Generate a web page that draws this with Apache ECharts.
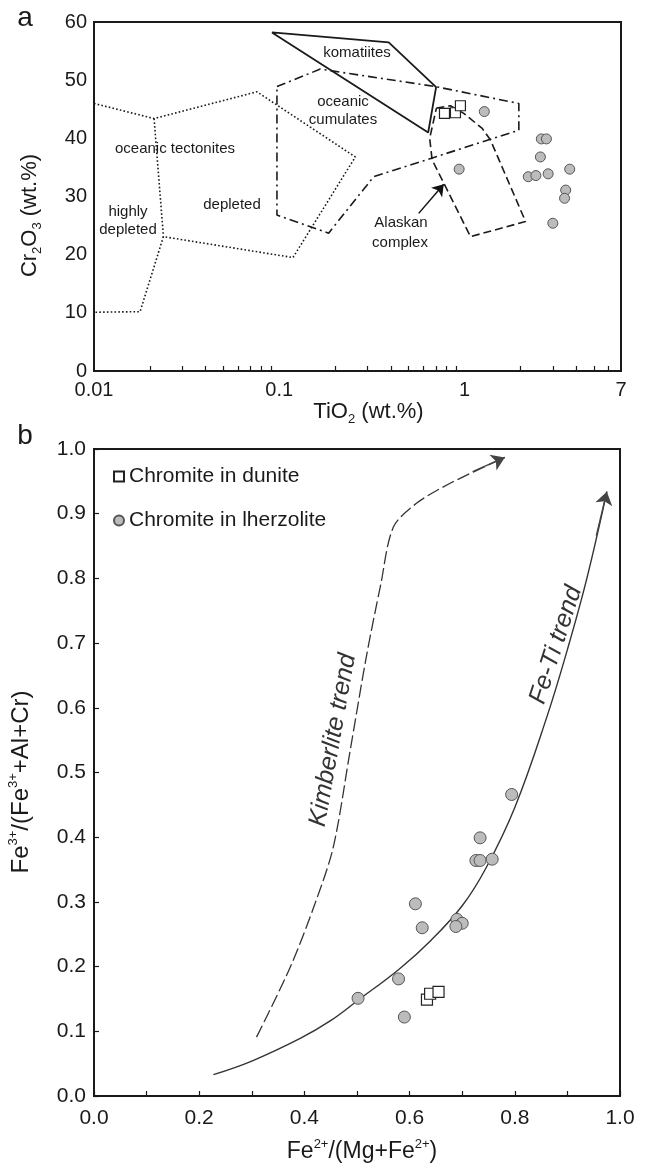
<!DOCTYPE html>
<html>
<head>
<meta charset="utf-8">
<script src="https://cdn.jsdelivr.net/npm/echarts@6/dist/echarts.min.js"></script>
<style>
html,body{margin:0;padding:0;background:#fff}
#chart{width:648px;height:1167px}
</style>
</head>
<body>
<div id="chart"></div>
<script>
// ---- panel a : Cr2O3 vs TiO2 ----
var duniteA = [[0.78,44.3],[0.894,44.4],[0.951,45.6]];
var lherzA = [[1.28,44.6],[2.60,39.9],[2.77,39.9],[2.57,36.8],[0.936,34.7],[2.21,33.4],
              [2.43,33.6],[2.83,33.9],[3.70,34.7],[3.52,31.1],[3.47,29.7],[3.0,25.4]];
var komatiites = [[0.0913,58.2],[0.390,56.5],[0.703,48.8],[0.637,41.0],[0.0913,58.2]];
var cumulates = [[0.0972,48.9],[0.1666,51.9],[0.697,48.9],[1.966,46.0],[1.966,41.4],
                 [0.3234,33.4],[0.1847,23.7],[0.0972,26.8],[0.0972,48.9]];
var tectonites = [[0.01,46.0],[0.0211,43.4],[0.0758,48.0],[0.2575,36.8],[0.1186,19.5],
                  [0.0237,23.1],[0.01773,10.2],[0.01,10.1]];
var tectonitesSplit = [[0.0211,43.4],[0.0237,23.1]];
var alaskan = [[0.7057,45.2],[0.840,45.6],[0.991,44.3],[1.247,41.7],[1.382,39.7],
               [2.137,25.7],[1.078,23.1],[0.669,36.3],[0.649,40.0],[0.7057,45.2]];
var alaskanArrow = [[0.566,27.1],[0.773,32.1]];
var tiLabels = [0.01,0.1,1,7];
var tiMinorTicks = [0.02,0.03,0.04,0.05,0.06,0.07,0.08,0.09,0.2,0.3,0.4,0.5,0.6,0.7,0.8,0.9,2,3,4,5,6];

// ---- panel b : Fe3+/(Fe3++Al+Cr) vs Fe2+/(Mg+Fe2+) ----
var duniteB = [[0.633,0.149],[0.639,0.158],[0.655,0.161]];
var lherzB = [[0.794,0.466],[0.734,0.399],[0.726,0.364],[0.734,0.364],[0.757,0.366],[0.611,0.297],
              [0.624,0.260],[0.690,0.273],[0.700,0.267],[0.688,0.262],[0.579,0.181],[0.502,0.151],[0.590,0.122]];
var kimberliteTrend = [[0.309,0.091],[0.373,0.199],[0.420,0.297],[0.455,0.385],[0.487,0.534],
                       [0.518,0.680],[0.545,0.790],[0.569,0.879],[0.613,0.916],[0.677,0.947],[0.781,0.987]];
var kimberliteArrow = [[0.72,0.965],[0.781,0.987]];
var feTiTrend = [[0.227,0.033],[0.30,0.054],[0.392,0.089],[0.449,0.116],[0.502,0.148],[0.58,0.196],
                 [0.64,0.240],[0.70,0.294],[0.745,0.352],[0.80,0.446],[0.861,0.586],[0.90,0.69],
                 [0.937,0.80],[0.975,0.934]];
var feTiArrow = [[0.955,0.866],[0.975,0.934]];

var FONT = '"Liberation Sans", Arial, sans-serif';
var INK = '#1a1a1a';

var chart = echarts.init(document.getElementById('chart'));

function polygon(data, type, width) {
  return {
    type: 'line', xAxisIndex: 0, yAxisIndex: 0, data: data,
    symbol: 'none', silent: true, z: 2,
    lineStyle: { color: INK, width: width, type: type }
  };
}
function arrow(idx, coords, color, width, size) {
  return {
    type: 'lines', coordinateSystem: 'cartesian2d', xAxisIndex: idx, yAxisIndex: idx,
    symbol: ['none', 'arrow'], symbolSize: size, silent: true, z: 3,
    lineStyle: { color: color, width: width, opacity: 1 },
    data: [{ coords: coords }]
  };
}
function supRich(size) {
  return {
    sup: { fontSize: size, fontFamily: FONT, color: INK, verticalAlign: 'top', lineHeight: 28 },
    sub: { fontSize: size, fontFamily: FONT, color: INK, verticalAlign: 'bottom', lineHeight: 28 }
  };
}
function txt(x, y, s, size, extra) {
  var o = {
    type: 'text', x: x, y: y, silent: true,
    style: {
      text: s, fill: INK, font: size + 'px ' + FONT,
      textAlign: 'center', textVerticalAlign: 'middle', align: 'center', verticalAlign: 'middle'
    }
  };
  if (extra) { for (var k in extra) o[k] = extra[k]; }
  return o;
}

var option = {
  animation: false,
  backgroundColor: '#fff',
  grid: [
    { left: 94, top: 22, width: 527, height: 349, show: true, borderColor: INK, borderWidth: 2, outerBoundsMode: 'none' },
    { left: 94, top: 449, width: 526, height: 647, show: true, borderColor: INK, borderWidth: 2, outerBoundsMode: 'none' }
  ],
  legend: {
    orient: 'vertical', left: 108, top: 461, itemGap: 23, itemWidth: 10, itemHeight: 10,
    textStyle: { fontSize: 21, fontFamily: FONT, color: INK },
    data: [
      { name: 'Chromite in dunite', icon: 'rect' },
      { name: 'Chromite in lherzolite', icon: 'circle' }
    ]
  },
  xAxis: [
    {
      type: 'log', logBase: 10, gridIndex: 0, min: 0.01, max: 7,
      name: 'TiO{sub|2} (wt.%)', nameLocation: 'middle', nameGap: 27,
      nameTextStyle: { fontSize: 22, fontFamily: FONT, color: INK, padding: [0, 0, 0, 22], rich: supRich(13) },
      axisLine: { lineStyle: { color: INK, width: 2 } },
      axisTick: { show: true, inside: true, length: 5, lineStyle: { color: INK, width: 1.2 }, customValues: tiMinorTicks },
      axisLabel: { customValues: tiLabels, fontSize: 20, fontFamily: FONT, color: INK, margin: 9,
                   formatter: function (v) { return String(v); } },
      splitLine: { show: false }
    },
    {
      type: 'value', gridIndex: 1, min: 0, max: 1, interval: 0.1,
      name: 'Fe{sup|2+}/(Mg+Fe{sup|2+})', nameLocation: 'middle', nameGap: 42,
      nameTextStyle: { fontSize: 23, fontFamily: FONT, color: INK, padding: [0, 0, 0, 10], rich: supRich(13) },
      axisLine: { lineStyle: { color: INK, width: 2 } },
      axisTick: { show: true, inside: true, length: 5, lineStyle: { color: INK, width: 1.2 } },
      axisLabel: { fontSize: 21, fontFamily: FONT, color: INK, margin: 12,
                   formatter: function (v) { return Math.round(v * 10) % 2 === 0 ? v.toFixed(1) : ''; } },
      splitLine: { show: false }
    }
  ],
  yAxis: [
    {
      type: 'value', gridIndex: 0, min: 0, max: 60, interval: 10,
      name: 'Cr{sub|2}O{sub|3} (wt.%)', nameLocation: 'middle', nameGap: 50, nameRotate: 90,
      nameTextStyle: { fontSize: 22, fontFamily: FONT, color: INK, padding: [0, 38, 0, 0], rich: supRich(13) },
      axisLine: { lineStyle: { color: INK, width: 2 } },
      axisTick: { show: false },
      axisLabel: { fontSize: 20, fontFamily: FONT, color: INK, margin: 7 },
      splitLine: { show: false }
    },
    {
      type: 'value', gridIndex: 1, min: 0, max: 1, interval: 0.1,
      name: 'Fe{sup|3+}/(Fe{sup|3+}+Al+Cr)', nameLocation: 'middle', nameGap: 59, nameRotate: 90,
      nameTextStyle: { fontSize: 24, fontFamily: FONT, color: INK, padding: [0, 19, 0, 0], rich: supRich(13) },
      axisLine: { lineStyle: { color: INK, width: 2 } },
      axisTick: { show: true, inside: true, length: 5, lineStyle: { color: INK, width: 1.2 } },
      axisLabel: { fontSize: 21, fontFamily: FONT, color: INK, margin: 8,
                   formatter: function (v) { return v.toFixed(1); } },
      splitLine: { show: false }
    }
  ],
  series: [
    polygon(tectonites, [1.6, 2.2], 1.6),
    polygon(tectonitesSplit, [1.6, 2.2], 1.6),
    polygon(cumulates, [9, 4, 2, 4], 1.6),
    polygon(komatiites, 'solid', 1.8),
    polygon(alaskan, [8, 4], 1.6),
    arrow(0, alaskanArrow, '#111', 1.5, 11),
    {
      name: 'lherzolite a', type: 'scatter', xAxisIndex: 0, yAxisIndex: 0, data: lherzA,
      symbol: 'circle', symbolSize: 10, z: 5,
      itemStyle: { color: '#bcbcbc', borderColor: '#555', borderWidth: 1, opacity: 1 }
    },
    {
      name: 'dunite a', type: 'scatter', xAxisIndex: 0, yAxisIndex: 0, data: duniteA,
      symbol: 'rect', symbolSize: 10, z: 5,
      itemStyle: { color: '#fff', borderColor: '#222', borderWidth: 1.2, opacity: 1 }
    },
    {
      type: 'line', xAxisIndex: 1, yAxisIndex: 1, data: kimberliteTrend, symbol: 'none', smooth: 0.3,
      silent: true, z: 2, lineStyle: { color: '#333', width: 1.3, type: [13, 4] }
    },
    arrow(1, kimberliteArrow, '#444', 1.3, 13),
    {
      type: 'line', xAxisIndex: 1, yAxisIndex: 1, data: feTiTrend, symbol: 'none', smooth: 0.4,
      silent: true, z: 2, lineStyle: { color: '#333', width: 1.4 }
    },
    arrow(1, feTiArrow, '#444', 1.4, 13),
    {
      name: 'Chromite in lherzolite', type: 'scatter', xAxisIndex: 1, yAxisIndex: 1, data: lherzB,
      symbol: 'circle', symbolSize: 12, z: 5,
      itemStyle: { color: '#bcbcbc', borderColor: '#555', borderWidth: 1, opacity: 1 }
    },
    {
      name: 'Chromite in dunite', type: 'scatter', xAxisIndex: 1, yAxisIndex: 1, data: duniteB,
      symbol: 'rect', symbolSize: 11, z: 5,
      itemStyle: { color: '#fff', borderColor: '#222', borderWidth: 1.2, opacity: 1 }
    }
  ],
  graphic: [
    txt(25, 18, 'a', 28),
    txt(25, 436, 'b', 28),
    txt(357, 53, 'komatiites', 15),
    txt(343, 102, 'oceanic', 15),
    txt(343, 120, 'cumulates', 15),
    (function () { var t = txt(175, 149, 'oceanic tectonites', 15); t.style.backgroundColor = '#fff'; t.style.padding = [0, 2]; return t; })(),
    txt(128, 212, 'highly', 15),
    txt(128, 230, 'depleted', 15),
    txt(232, 205, 'depleted', 15),
    txt(401, 223, 'Alaskan', 15),
    txt(400, 243, 'complex', 15),
    txt(333, 740, 'Kimberlite trend', 25, { rotation: 1.396 }),
    txt(556, 645, 'Fe-Ti trend', 25, { rotation: 1.257 })
  ]
};
option.graphic[11].style.font = 'italic 25px ' + FONT;
option.graphic[12].style.font = 'italic 25px ' + FONT;
option.graphic[11].style.fill = '#333';
option.graphic[12].style.fill = '#333';

chart.setOption(option);
</script>
</body>
</html>
